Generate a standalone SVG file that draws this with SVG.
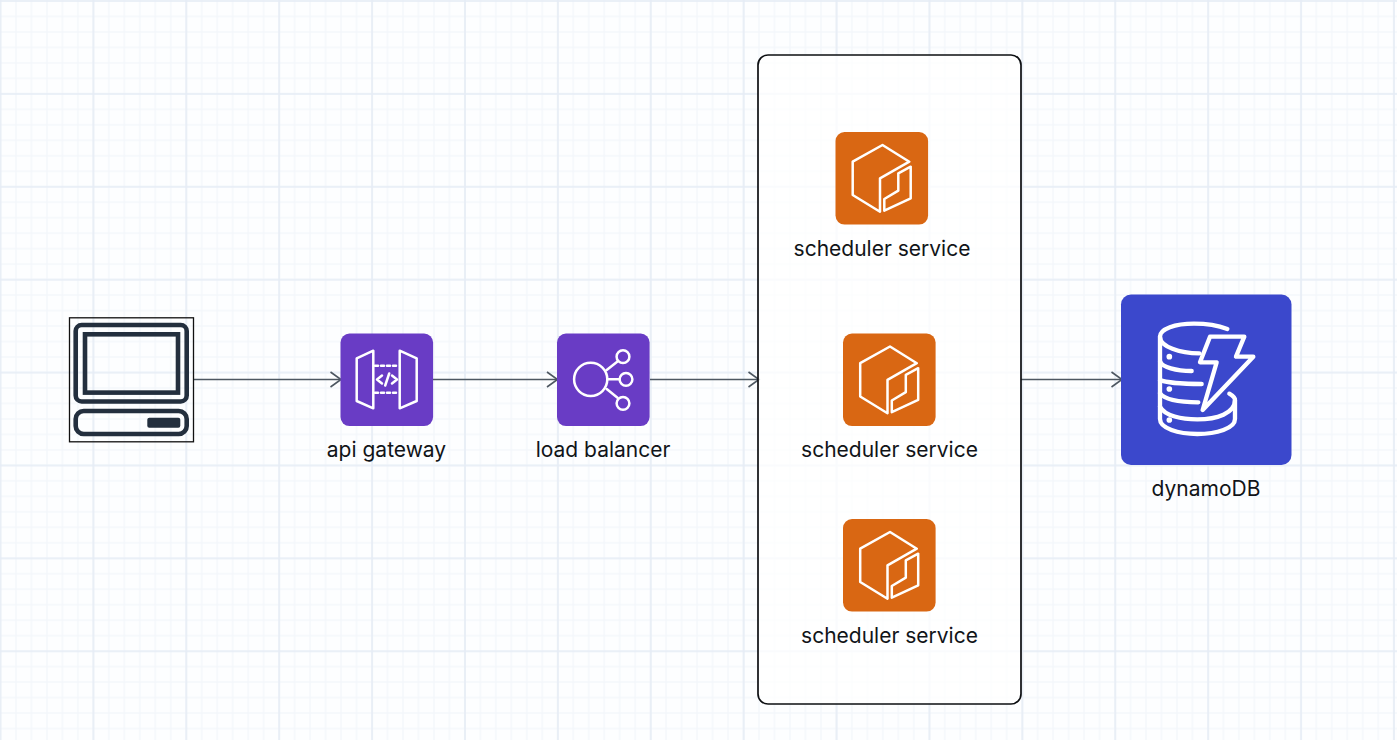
<svg xmlns="http://www.w3.org/2000/svg" width="1397" height="740" viewBox="0 0 1397 740">
<style>
text{font-family:Inter,"Liberation Sans",sans-serif;font-size:21px;fill:#111418;text-anchor:middle}
.w{fill:none;stroke:#fff;stroke-linejoin:round;stroke-linecap:round}
.c{fill:none;stroke:#4d5761;stroke-width:1.5}
.k{fill:none;stroke:#232f3e;stroke-width:4.6}
</style>
<defs>
<pattern id="minor" width="15.48" height="15.48" patternUnits="userSpaceOnUse" x="-0.5" y="0"><path d="M1 0V15.48M0 1H15.48" fill="none" stroke="#f4f7fb" stroke-width="1.4"/></pattern>
<pattern id="major" width="92.9" height="92.9" patternUnits="userSpaceOnUse" x="-0.5" y="0"><path d="M1 0V92.9M0 1H92.9" fill="none" stroke="#e6edf6" stroke-width="1.6"/></pattern>
<marker id="arrow" markerUnits="userSpaceOnUse" markerWidth="14" markerHeight="18" refX="12" refY="9" orient="auto"><path d="M1.500 1.500 L12 9 L1.500 16.500" fill="none" stroke="#4d5761" stroke-width="1.6"/></marker>
<g id="cube">
<rect width="92.6" height="92.6" rx="9" fill="#d96713"/>
<path class="w" stroke-width="2.5" d="M73.800 29.700L47 13L17.200 29.700V63L44.500 79.700V46.300Z M75.200 34.700V66.300L48.800 78.700V67L62.800 58.700V41.300Z"/>
</g>
</defs>
<rect width="1397" height="740" fill="#fdfeff"/>
<rect width="1397" height="740" fill="url(#minor)"/>
<rect width="1397" height="740" fill="url(#major)"/>
<g id="connectors">
<path class="c" d="M193.500 379.500H341" marker-end="url(#arrow)"/>
<path class="c" d="M433 379.500H557.500" marker-end="url(#arrow)"/>
<path class="c" d="M650 379.500H759" marker-end="url(#arrow)"/>
<path class="c" d="M1021 379.500H1122" marker-end="url(#arrow)"/>
</g>
<g id="container"><rect x="758" y="55" width="263" height="649" rx="10" fill="#fff" fill-opacity=".75" stroke="#0d0f12" stroke-width="1.700"/></g>
<g id="client">
<rect x="69.500" y="317.800" width="124" height="124" fill="none" stroke="#111" stroke-width="1.300"/>
<rect class="k" x="75.700" y="325" width="111" height="76.500" rx="6"/>
<rect class="k" x="85" y="334.300" width="93" height="58.300"/>
<rect class="k" x="75.700" y="411" width="111" height="23" rx="8"/>
<rect x="147.300" y="417.700" width="33" height="10" rx="2" fill="#232f3e"/>
</g>
<g id="api-gateway">
<rect x="340.500" y="333.500" width="92.600" height="92.600" rx="9" fill="#693cc5"/>
<path class="w" stroke-width="2.500" d="M356.700 358.300L373.300 350.700V408.300L356.700 401Z M399.700 350.700L416.700 358.300V401L399.700 408.300Z"/>
<path class="w" stroke-width="2.500" stroke-dasharray="3 3" stroke-linecap="butt" d="M375 365.700H399 M375 392.700H399"/>
<path class="w" stroke-width="2.500" d="M382 375.500L377 379.500L382 383.500 M392 375.500L397 379.500L392 383.500 M389.200 373.500L385.200 385.500"/>
<text x="386.500" y="457">api gateway</text>
</g>
<g id="load-balancer">
<rect x="557" y="333.500" width="92.600" height="92.600" rx="9" fill="#693cc5"/>
<g class="w" stroke-width="2.500">
<circle cx="590.700" cy="379.300" r="16.600"/>
<circle cx="623" cy="356.700" r="6.400"/>
<circle cx="626" cy="379.300" r="6.400"/>
<circle cx="623" cy="403.300" r="6.400"/>
<path d="M606.700 370L617.500 361.500 M607.500 379.300H619.500 M606.700 389L617.500 397.800"/>
</g>
<text x="603" y="457">load balancer</text>
</g>
<g id="scheduler-1"><use href="#cube" x="835.500" y="132"/><text x="882" y="256">scheduler service</text></g>
<g id="scheduler-2"><use href="#cube" x="843" y="333.500"/><text x="889.500" y="457">scheduler service</text></g>
<g id="scheduler-3"><use href="#cube" x="843" y="519"/><text x="889.500" y="643">scheduler service</text></g>
<g id="dynamodb">
<rect x="1121" y="294.500" width="170.500" height="170.500" rx="10" fill="#3b48cc"/>
<g transform="translate(1110 285) scale(.3333)">
<g class="w" stroke-width="13">
<path d="M352 132C320 120 285 116 252 116C195 116 150 132 150 155V232C150 240 150 246 150 250V312C150 320 150 340 150 350V402C150 430 205 447 262 447C320 447 375 430 375 402V345C375 338 368 332 358 326"/>
<path d="M150 155C150 185 210 205 268 205"/>
<path d="M150 228C155 247 200 258 245 258"/>
<path d="M150 285C165 292 220 297 275 297"/>
<path d="M150 325C165 345 215 352 265 352"/>
<path d="M150 365C165 393 215 403 262 403C320 403 375 385 375 345"/>
<path d="M300 155H403L378 215H430L278 375L320 232H270Z"/>
</g>
<circle cx="178" cy="215" r="8.500" fill="#fff"/>
<circle cx="178" cy="312" r="8.500" fill="#fff"/>
<circle cx="178" cy="405" r="8.500" fill="#fff"/>
</g>
<text x="1206" y="496">dynamoDB</text>
</g>
</svg>
